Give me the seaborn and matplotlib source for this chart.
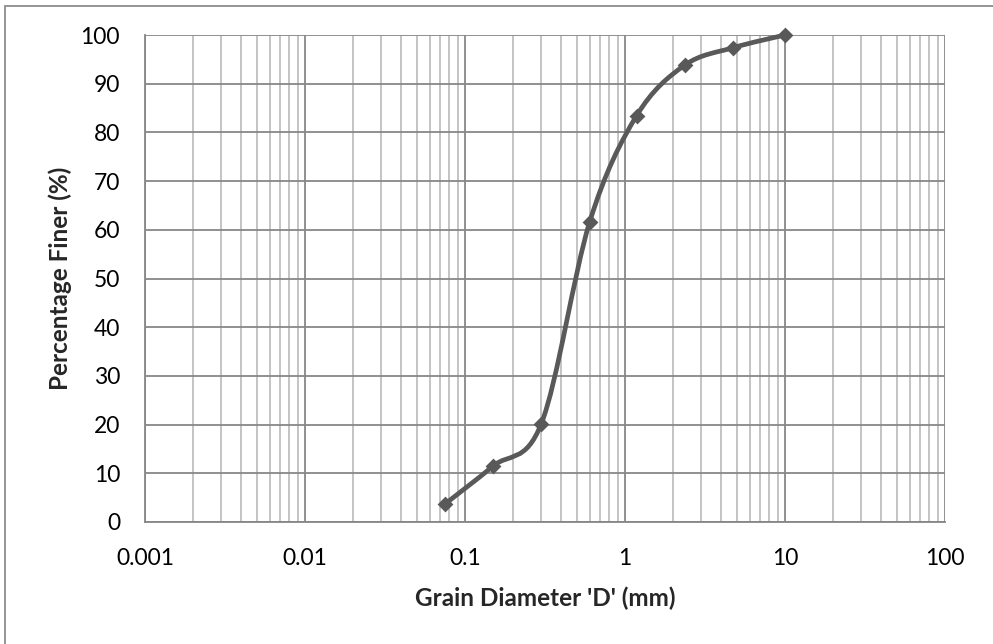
import numpy as np
import pandas as pd
import matplotlib
matplotlib.use("Agg")
import matplotlib.pyplot as plt
from matplotlib.path import Path
from matplotlib.patches import PathPatch, Rectangle
from matplotlib.ticker import LogLocator, FixedLocator, NullFormatter
import seaborn as sns

# Sieve analysis results
grain_diameter_mm = [0.075, 0.15, 0.3, 0.6, 1.18, 2.36, 4.75, 10.0]
percent_finer = [3.7, 11.5, 20.2, 61.5, 83.4, 93.8, 97.4, 100.0]

x_tick_values = [0.001, 0.01, 0.1, 1, 10, 100]
x_tick_labels = ["0.001", "0.01", "0.1", "1", "10", "100"]
y_tick_values = list(range(0, 101, 10))

sns.set_theme(style="white")
plt.rcParams["font.family"] = ["Lato", "DejaVu Sans"]

df = pd.DataFrame({"D": grain_diameter_mm, "P": percent_finer})

fig = plt.figure(figsize=(9.93, 6.44), dpi=100)
ax = fig.add_axes([145 / 993, 122 / 644, 800 / 993, 487 / 644])

major_c = "#878787"
minor_c = "#bfbfbf"
line_c = "#595959"

ax.set_xscale("log")
ax.set_xlim(0.001, 100)
ax.set_ylim(0, 100)

# grid
ax.xaxis.set_major_locator(FixedLocator(x_tick_values))
ax.xaxis.set_minor_locator(LogLocator(base=10, subs=np.arange(2, 10), numticks=50))
ax.xaxis.set_minor_formatter(NullFormatter())
ax.set_xticklabels(x_tick_labels)
ax.set_yticks(y_tick_values)
ax.grid(which="major", axis="both", color=major_c, linewidth=1.3)
ax.grid(which="minor", axis="x", color=minor_c, linewidth=1.3)
ax.set_axisbelow(True)

for side in ["top", "right"]:
    ax.spines[side].set_visible(False)
for side in ["left", "bottom"]:
    ax.spines[side].set_color(major_c)
    ax.spines[side].set_linewidth(1.3)

ax.tick_params(axis="both", which="major", direction="out", length=6,
               width=1.3, color=major_c, labelsize=16.5, labelcolor="black")
ax.tick_params(axis="x", which="major", pad=13)
ax.tick_params(axis="y", which="major", pad=12)
ax.tick_params(axis="x", which="minor", length=0)

# smoothed curve (cubic Bezier segments through the points, log-x space)
lx = np.log10(np.array(grain_diameter_mm))
py = np.array(percent_finer)
n = len(lx)
verts = [(lx[0], py[0])]
codes = [Path.MOVETO]
for i in range(n - 1):
    p0 = np.array([lx[max(i - 1, 0)], py[max(i - 1, 0)]])
    p1 = np.array([lx[i], py[i]])
    p2 = np.array([lx[i + 1], py[i + 1]])
    p3 = np.array([lx[min(i + 2, n - 1)], py[min(i + 2, n - 1)]])
    c1 = p1 + (p2 - p0) / 6.0
    c2 = p2 - (p3 - p1) / 6.0
    verts += [tuple(c1), tuple(c2), tuple(p2)]
    codes += [Path.CURVE4] * 3
verts = [(10 ** vx, vy) for vx, vy in verts]
curve = PathPatch(Path(verts, codes), facecolor="none", edgecolor=line_c,
                  linewidth=3.4, capstyle="round", joinstyle="round", zorder=3,
                  clip_on=False)
ax.add_patch(curve)

sns.scatterplot(data=df, x="D", y="P", marker="D", s=65, color=line_c,
                edgecolor=line_c, linewidth=0, zorder=4, ax=ax, legend=False,
                clip_on=False)

ax.set_xlabel("Grain Diameter 'D' (mm)", fontsize=17.5, fontweight="bold",
              labelpad=12)
ax.set_ylabel("Percentage Finer (%)", fontsize=17.5, fontweight="bold",
              labelpad=6)

# chart area border
fig.patches.append(Rectangle((5 / 993, -0.01), 1.1, (644 - 6) / 644 + 0.01,
                             transform=fig.transFigure, fill=False,
                             edgecolor="#8c8c8c", linewidth=1.3))

fig.savefig("out.png", dpi=100)
